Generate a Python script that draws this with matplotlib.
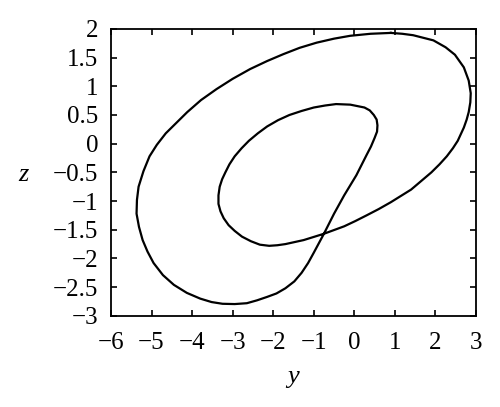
import matplotlib
matplotlib.use("Agg")
import matplotlib.pyplot as plt

# points (y on the horizontal axis, z vertical)
y_vals = [0.90, 1.18, 1.45, 1.95, 2.25, 2.48, 2.70, 2.82, 2.87, 2.86, 2.82,
          2.77, 2.70, 2.55, 2.43, 2.28, 2.10, 1.90, 1.65, 1.40, 1.15, 0.90,
          0.60, 0.30, 0.02, -0.25, -0.75, -1.25, -1.70, -1.90, -2.10, -2.33,
          -2.55, -2.77, -2.95, -3.10, -3.22, -3.30, -3.35, -3.35, -3.32,
          -3.26, -3.18, -3.08, -2.95, -2.78, -2.60, -2.38, -2.15, -1.88,
          -1.60, -1.30, -1.00, -0.72, -0.45, -0.10, 0.25, 0.38, 0.48, 0.55,
          0.57, 0.56, 0.50, 0.41, 0.30, 0.05, -0.25, -0.50, -0.75, -1.00,
          -1.14, -1.30, -1.48, -1.70, -1.92, -2.15, -2.40, -2.65, -2.95,
          -3.25, -3.52, -3.80, -4.13, -4.45, -4.72, -4.95, -5.10, -5.22,
          -5.31, -5.37, -5.36, -5.32, -5.20, -5.05, -4.87, -4.65, -4.12,
          -3.78, -3.40, -3.00, -2.57, -2.15, -1.75, -1.35, -0.93, -0.50,
          -0.10, 0.40, 0.90]
z_vals = [1.93, 1.915, 1.89, 1.80, 1.68, 1.55, 1.33, 1.10, 0.88, 0.72, 0.55,
          0.42, 0.28, 0.05, -0.08, -0.22, -0.36, -0.50, -0.65, -0.80, -0.91,
          -1.02, -1.14, -1.25, -1.35, -1.44, -1.57, -1.68, -1.75, -1.77,
          -1.78, -1.76, -1.70, -1.62, -1.52, -1.42, -1.30, -1.18, -1.05,
          -0.90, -0.75, -0.62, -0.50, -0.36, -0.22, -0.08, 0.05, 0.18, 0.30,
          0.41, 0.50, 0.57, 0.63, 0.665, 0.69, 0.68, 0.63, 0.58, 0.50, 0.42,
          0.32, 0.21, 0.10, -0.05, -0.20, -0.55, -0.90, -1.22, -1.57, -1.90,
          -2.08, -2.25, -2.40, -2.52, -2.61, -2.67, -2.73, -2.78, -2.795,
          -2.79, -2.76, -2.70, -2.60, -2.46, -2.29, -2.08, -1.88, -1.68,
          -1.45, -1.22, -0.98, -0.75, -0.48, -0.22, -0.02, 0.18, 0.55, 0.76,
          0.95, 1.13, 1.30, 1.44, 1.56, 1.67, 1.76, 1.83, 1.88, 1.915, 1.93]

x_ticks = [-6, -5, -4, -3, -2, -1, 0, 1, 2, 3]
z_ticks = [2, 1.5, 1, 0.5, 0, -0.5, -1, -1.5, -2, -2.5, -3]

plt.rcParams['font.family'] = ['Liberation Serif', 'DejaVu Serif']

fig = plt.figure(figsize=(5.0, 4.07), dpi=100)
ax = fig.add_axes([0.222, 0.224, 0.730, 0.705])

ax.plot(y_vals, z_vals, color='black', linewidth=1.6)

ax.set_xlim(-6, 3)
ax.set_ylim(-3, 2)
ax.set_xticks(x_ticks)
ax.set_yticks(z_ticks)
ax.set_xticklabels([str(t).replace('-', '\u2212') for t in x_ticks])
ax.set_yticklabels([('%g' % t).replace('-', '\u2212') for t in z_ticks])

ax.tick_params(direction='in', length=4, width=1.2, top=True, right=True,
               labelsize=18)
ax.tick_params(axis='x', pad=12)
ax.tick_params(axis='y', pad=9)
for s in ax.spines.values():
  s.set_linewidth(1.3)

fig.text(0.586, 0.073, 'y', fontsize=19, style='italic', ha='center', va='center')
fig.text(0.046, 0.57, 'z', fontsize=19, style='italic', ha='center', va='center')

fig.savefig('out.png', dpi=100)
